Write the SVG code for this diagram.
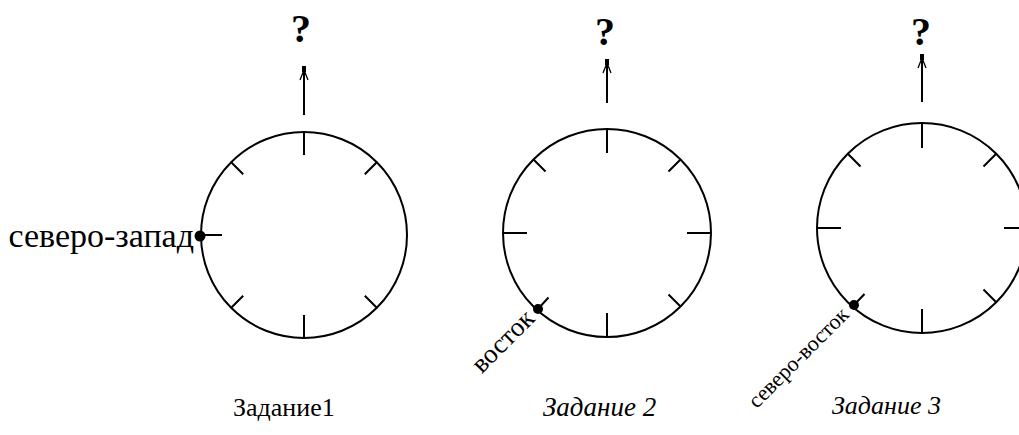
<svg xmlns="http://www.w3.org/2000/svg" width="1019" height="435" viewBox="0 0 1019 435">
<defs>
<style>
.ring{fill:none;stroke:#000;stroke-width:2}
.tick{stroke:#000;stroke-width:2;fill:none}
.arr{stroke:#000;stroke-width:2;fill:none}
.barb{stroke:#000;stroke-width:1.3;fill:none}
text{font-family:"Liberation Serif","DejaVu Serif",serif;fill:#000}
.q{font-weight:bold;font-size:40px;text-anchor:middle}
.it{font-style:italic}
</style>
<g id="arrowhead">
<rect x="-2" y="-1" width="4" height="6" fill="#000"/>
<path d="M0,3 L-4,13 M0,3 L4,13" class="barb"/>
</g>
</defs>
<rect width="1019" height="435" fill="#fff"/>

<g id="connectors">
<line class="arr" x1="304" y1="115" x2="304" y2="70"/>
<use href="#arrowhead" x="304" y="67"/>
<line class="arr" x1="607" y1="103" x2="607" y2="63"/>
<use href="#arrowhead" x="607" y="60"/>
<line class="arr" x1="922" y1="102" x2="922" y2="58"/>
<use href="#arrowhead" x="922" y="55"/>
</g>

<g id="dial1">
<circle class="ring" cx="304" cy="235" r="103"/>
<path class="tick" d="M304,132 V155 M304,338 V315 M201,235 H222 M231.2,162.2 L243.2,174.2 M376.8,162.2 L364.8,174.2 M231.2,307.8 L243.2,295.8 M376.8,307.8 L364.8,295.8"/>
<circle cx="200" cy="236" r="5.5" fill="#000"/>
<text class="q" x="301" y="42" font-family="Liberation Serif, serif">?</text>
<text x="194" y="247" font-size="34" text-anchor="end" font-family="Liberation Serif, serif">северо-запад</text>
<text x="233" y="416" font-size="26" font-family="Liberation Serif, serif">Задание1</text>
</g>

<g id="dial2">
<circle class="ring" cx="607" cy="233" r="104"/>
<path class="tick" d="M607,129 V153 M607,337 V313 M503,233 H527 M711,233 H687 M533.5,159.5 L545.5,171.5 M680.5,159.5 L668.5,171.5 M537,310 L548.5,297.5 M680.5,306.5 L668.5,294.5"/>
<circle cx="538" cy="309" r="5" fill="#000"/>
<text class="q" x="605" y="45" font-family="Liberation Serif, serif">?</text>
<text font-size="27" text-anchor="end" font-family="Liberation Serif, serif" transform="translate(536,320) rotate(-45)">восток</text>
<text class="it" x="543" y="416" font-size="27" font-family="Liberation Serif, serif">Задание 2</text>
</g>

<g id="dial3">
<circle class="ring" cx="922" cy="228" r="105"/>
<path class="tick" d="M922,123 V148 M922,333 V309 M817,228 H841 M1027,228 H1004 M847.8,153.8 L860.5,166.5 M996.2,153.8 L983.5,166.5 M853,306 L864.5,294 M996.2,302.2 L983.5,289.5"/>
<circle cx="854" cy="305" r="5" fill="#000"/>
<text class="q" x="921" y="45" font-family="Liberation Serif, serif">?</text>
<text font-size="22" text-anchor="end" font-family="Liberation Serif, serif" transform="translate(850,316) rotate(-45)">северо-восток</text>
<text class="it" x="832" y="414" font-size="26" font-family="Liberation Serif, serif">Задание 3</text>
</g>
</svg>
